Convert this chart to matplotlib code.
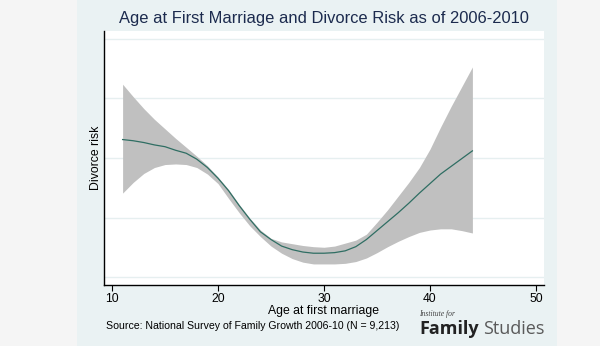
import matplotlib.pyplot as plt

# age at first marriage (years)
ages = [11, 12, 13, 14, 15, 16, 17, 18, 19, 20, 21, 22, 23, 24, 25, 26, 27,
        28, 29, 30, 31, 32, 33, 34, 35, 36, 37, 38, 39, 40, 41, 42, 43, 44]

# fitted divorce risk (no scale shown on the original, arbitrary units)
risk = [0.331, 0.329, 0.326, 0.322, 0.319, 0.313, 0.308, 0.298, 0.284, 0.266,
        0.245, 0.220, 0.197, 0.176, 0.163, 0.152, 0.146, 0.142, 0.140, 0.140,
        0.141, 0.144, 0.151, 0.163, 0.178, 0.193, 0.208, 0.224, 0.241, 0.257,
        0.273, 0.286, 0.299, 0.312]

# confidence band
upper = [0.424, 0.403, 0.383, 0.365, 0.349, 0.333, 0.318, 0.303, 0.287, 0.268,
         0.247, 0.222, 0.199, 0.179, 0.165, 0.159, 0.156, 0.153, 0.151, 0.150,
         0.152, 0.157, 0.162, 0.172, 0.192, 0.213, 0.236, 0.259, 0.284, 0.315,
         0.352, 0.387, 0.420, 0.453]
lower = [0.241, 0.259, 0.274, 0.284, 0.289, 0.290, 0.289, 0.284, 0.273, 0.257,
         0.232, 0.208, 0.186, 0.168, 0.152, 0.140, 0.131, 0.125, 0.122, 0.122,
         0.122, 0.123, 0.126, 0.132, 0.141, 0.151, 0.160, 0.168, 0.175, 0.179,
         0.181, 0.181, 0.178, 0.174]

xticks = [10, 20, 30, 40, 50]
gridlines = [0.1, 0.2, 0.3, 0.4, 0.5]

W, H = 600, 346
plt.rcParams["font.family"] = ["Liberation Sans", "DejaVu Sans"]
fig = plt.figure(figsize=(W / 100, H / 100), dpi=100, facecolor="#f5f5f5")

# light panel behind the chart
bg = fig.add_axes([76.5 / W, 0, (557 - 76.5) / W, 1], zorder=-1)
bg.set_facecolor("#eaf2f3")
bg.set_xticks([])
bg.set_yticks([])
for s in bg.spines.values():
    s.set_visible(False)

ax = fig.add_axes([104 / W, 1 - 285 / H, 440 / W, 254 / H], zorder=1)
ax.set_facecolor("white")

ax.fill_between(ages, lower, upper, color="#c0c0c0", linewidth=0, zorder=2)
ax.plot(ages, risk, color="#2f6e63", linewidth=0.9, zorder=3)

ax.set_xlim(9.245, 50.755)
ax.set_ylim(0.0866, 0.5134)
ax.set_xticks(xticks)
ax.set_yticks(gridlines)
ax.set_yticklabels([])
ax.tick_params(axis="y", length=0)
ax.tick_params(axis="x", length=4, width=0.8, labelsize=8.7, pad=2,
               colors="black")
ax.grid(axis="y", color="#e6eff0", linewidth=1)
ax.set_axisbelow(True)
for side in ("top", "right"):
    ax.spines[side].set_visible(False)
for side in ("left", "bottom"):
    ax.spines[side].set_linewidth(1)
    ax.spines[side].set_color("black")

ax.set_xlabel("Age at first marriage", fontsize=8.8, labelpad=0)
ax.text(-8 / 440, 0.5, "Divorce risk", transform=ax.transAxes, rotation=90,
        ha="center", va="center", fontsize=8.8)

fig.text(324 / W, 1 - 18 / H, "Age at First Marriage and Divorce Risk as of 2006-2010",
         ha="center", va="center", fontsize=11.85, color="#1c2b4e")
fig.text(106 / W, 1 - 326 / H,
         "Source: National Survey of Family Growth 2006-10 (N = 9,213)",
         ha="left", va="center", fontsize=7.6)

# logo
fig.text(419 / W, 1 - 314 / H, "Institute for", ha="left", va="center",
         fontsize=5.5, style="italic", family="Liberation Serif", color="#444444")
fig.text(419 / W, 1 - 329 / H, "Family", ha="left", va="center",
         fontsize=13, weight="bold", family="Open Sans", color="#222222")
fig.text(483 / W, 1 - 329 / H, "Studies", ha="left", va="center",
         fontsize=13, family="Open Sans", color="#5a5a5a")

fig.savefig("out.png", dpi=100, facecolor=fig.get_facecolor())
